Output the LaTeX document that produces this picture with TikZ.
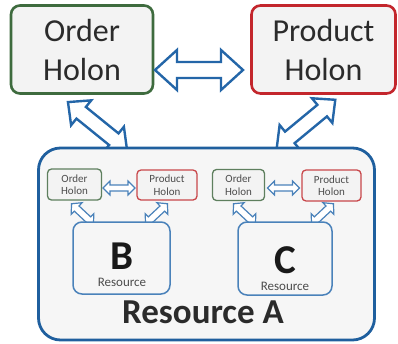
\documentclass[tikz,border=0pt]{standalone}
\usepackage{fontspec}
\setmainfont{Carlito}
\definecolor{ogreen}{HTML}{3E6B3E}
\definecolor{sgreen}{HTML}{5E7F5E}
\definecolor{pred}{HTML}{C3262C}
\definecolor{spred}{HTML}{C8474B}
\definecolor{ablue}{HTML}{1F5F9E}
\definecolor{arblue}{HTML}{2466A8}
\definecolor{bblue}{HTML}{4A82BA}
\definecolor{boxfill}{HTML}{F3F3F3}
\definecolor{afill}{HTML}{F6F6F6}
\definecolor{txt}{HTML}{2B2B2B}
\newcommand\blockarr[8]{\draw[#1,shift={(#2,#3)},rotate=#4] (-#5,0) -- (-#5+#8,#7) -- (-#5+#8,#6) -- (#5-#8,#6) -- (#5-#8,#7) -- (#5,0) -- (#5-#8,-#7) -- (#5-#8,-#6) -- (-#5+#8,-#6) -- (-#5+#8,-#7) -- cycle;}
\begin{document}
\begin{tikzpicture}[x=1pt,y=-1pt,
  bigholon/.style={draw,line width=2.6pt,rounded corners=9pt,fill=boxfill,text=txt,align=center,
     font=\fontsize{32}{39}\selectfont,inner sep=0pt},
  smallholon/.style={draw,line width=1.3pt,rounded corners=4pt,fill=boxfill,text=black!70,align=center,
     font=\fontsize{11}{12.5}\selectfont,inner sep=0pt},
  resbox/.style={draw=bblue,line width=1.5pt,rounded corners=9pt,fill=afill},
  letter/.style={font=\bfseries\fontsize{41}{43}\selectfont,text=black!90,inner sep=0pt,text depth=0pt,text height=26pt},
  reslabel/.style={font=\fontsize{13}{14}\selectfont,text=black!70,inner sep=0pt,text height=9pt,text depth=2pt},
  barrow/.style={draw=arblue,line width=2.4pt,fill=white,line join=miter},
  sarrow/.style={draw=bblue,line width=1.2pt,fill=white,line join=miter}]
\useasboundingbox (0,0) rectangle (398,343);
% top holons
\node[bigholon,draw=ogreen,minimum width=142pt,minimum height=88pt] (oh) at (82,49.5) {Order\\Holon};
\node[bigholon,draw=pred,minimum width=144pt,minimum height=88pt] (ph) at (323.5,49.5) {Product\\Holon};
% big arrows
\blockarr{barrow}{199}{70}{0}{44}{8}{20}{22}
\blockarr{barrow}{97.5}{126}{-39}{38}{7.5}{16}{17}
\blockarr{barrow}{306}{124}{39.6}{38}{7.5}{16}{17}
% resource A
\node[draw=ablue,line width=2.8pt,rounded corners=22pt,fill=afill,minimum width=336pt,minimum height=192pt,inner sep=0pt] (ra) at (206.5,244) {};
\node[font=\bfseries\fontsize{35}{40}\selectfont,text=txt,anchor=base] (ral) at (203,323) {Resource A};
% small arrows
\blockarr{sarrow}{119}{188}{0}{16}{3}{7}{7}
\blockarr{sarrow}{283.5}{188}{0}{16}{3}{7}{7}
\blockarr{sarrow}{82.5}{214}{-43}{15}{3.5}{8}{7}
\blockarr{sarrow}{156.5}{214}{43}{15}{3.5}{8}{7}
\blockarr{sarrow}{244.5}{214}{-43}{15}{3.5}{8}{7}
\blockarr{sarrow}{322.5}{214}{43}{15}{3.5}{8}{7}
% resource B
\node[resbox,minimum width=97pt,minimum height=72pt] (rb) at (121.5,258) {};
\node[letter] (bl) at (122,256) {B};
\node[reslabel] (bs) at (122,283) {Resource};
\node[smallholon,draw=sgreen,minimum width=54pt,minimum height=31pt] (sob) at (74.5,184.5) {Order\\Holon};
\node[smallholon,draw=spred,minimum width=60pt,minimum height=30pt] (spb) at (167,185) {Product\\Holon};
% resource C
\node[resbox,minimum width=94pt,minimum height=73pt] (rc) at (285,258.5) {};
\node[letter] (cl) at (285,260) {C};
\node[reslabel] (cs) at (285,287) {Resource};
\node[smallholon,draw=sgreen,minimum width=52pt,minimum height=31pt] (soc) at (238.5,185) {Order\\Holon};
\node[smallholon,draw=spred,minimum width=59pt,minimum height=31pt] (spc) at (331.5,185.5) {Product\\Holon};
\end{tikzpicture}
\end{document}
